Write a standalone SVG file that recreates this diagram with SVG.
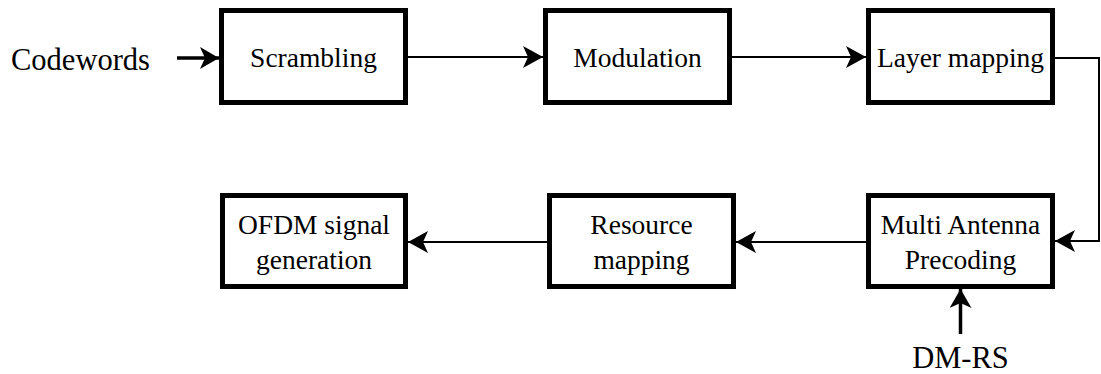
<svg xmlns="http://www.w3.org/2000/svg" width="1101" height="374" viewBox="0 0 1101 374">
<style>
.box{fill:#fff;stroke:#000;stroke-width:5}
.t{font-family:"Liberation Serif","Times New Roman",serif;font-size:27.5px;fill:#000;text-anchor:middle}
.lbl{font-family:"Liberation Serif","Times New Roman",serif;font-size:30.5px;fill:#000}
.c{fill:none;stroke:#000;stroke-width:2}
.ck{fill:none;stroke:#000;stroke-width:3.5}
</style>
<defs>
<marker id="arr" markerUnits="userSpaceOnUse" viewBox="0 0 20 22" refX="20" refY="11" markerWidth="20" markerHeight="22" orient="auto">
<path d="M0,0 L20,11 L0,22 L5,11 Z" fill="#000"/>
</marker>
<marker id="arrk" markerUnits="userSpaceOnUse" viewBox="0 0 19 22" refX="19" refY="11" markerWidth="19" markerHeight="22" orient="auto">
<path d="M0,0 L19,11 L0,22 L5,11 Z" fill="#000"/>
</marker>
</defs>
<rect width="1101" height="374" fill="#fff"/>
<g id="connectors">
<path class="ck" d="M177,58 H219" marker-end="url(#arrk)"/>
<path class="c" d="M408,57 H543" marker-end="url(#arr)"/>
<path class="c" d="M732,57 H866" marker-end="url(#arr)"/>
<path class="c" d="M1055,58 H1099 V241 H1055" marker-end="url(#arr)"/>
<path class="c" d="M866,242 H736" marker-end="url(#arr)"/>
<path class="c" d="M547,242 H408" marker-end="url(#arr)"/>
<path class="ck" d="M960.5,334 V289" marker-end="url(#arrk)"/>
</g>
<g id="codewords"><text class="lbl" x="11" y="70">Codewords</text></g>
<g id="scrambling"><rect class="box" x="221.5" y="10.5" width="184" height="92"/><text class="t" x="313.5" y="67">Scrambling</text></g>
<g id="modulation"><rect class="box" x="545.5" y="10.5" width="184" height="92"/><text class="t" x="637.5" y="67">Modulation</text></g>
<g id="layer-mapping"><rect class="box" x="868.5" y="10.5" width="184" height="92"/><text class="t" x="960.5" y="67">Layer mapping</text></g>
<g id="multi-antenna-precoding"><rect class="box" x="868.5" y="195.5" width="184" height="91"/><text class="t" x="960.5" y="234">Multi Antenna</text><text class="t" x="960.5" y="269">Precoding</text></g>
<g id="resource-mapping"><rect class="box" x="549.5" y="195.5" width="184" height="91"/><text class="t" x="641.5" y="234">Resource</text><text class="t" x="641.5" y="269">mapping</text></g>
<g id="ofdm-signal-generation"><rect class="box" x="222.5" y="195.5" width="183" height="91"/><text class="t" x="314" y="234">OFDM signal</text><text class="t" x="314" y="269">generation</text></g>
<g id="dm-rs"><text class="lbl" x="960.5" y="368" text-anchor="middle">DM-RS</text></g>
</svg>
